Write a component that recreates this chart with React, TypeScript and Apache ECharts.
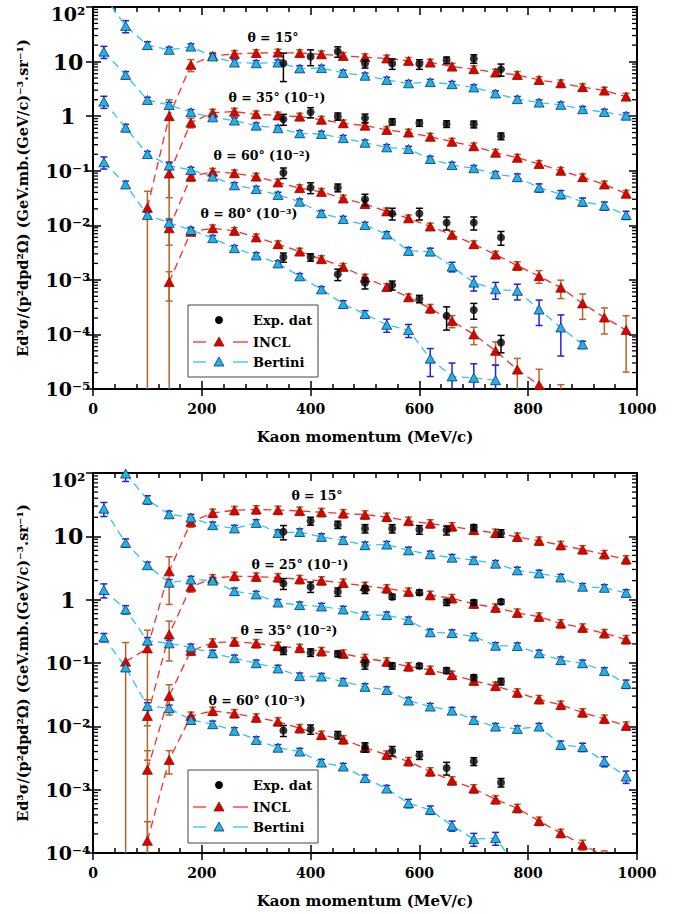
import React, { useEffect, useRef } from "react";
import * as echarts from "echarts";

const FONT = '"DejaVu Serif", serif';

// ---------- data ----------
const MODEL_X = [20, 60, 100, 140, 180, 220, 260, 300, 340, 380, 420, 460, 500, 540, 580, 620, 660, 700, 740, 780, 820, 860, 900, 940, 980];
const EXP_X = [350, 400, 450, 500, 550, 600, 650, 700, 750];
const X_TICK_LABELS = ["0", "200", "400", "600", "800", "1000"];
const TOP_Y_TICK_LABELS = ["10⁻⁵", "10⁻⁴", "10⁻³", "10⁻²", "10⁻¹", "1", "10", "10²"];
const BOT_Y_TICK_LABELS = ["10⁻⁴", "10⁻³", "10⁻²", "10⁻¹", "1", "10", "10²"];
const X_TITLE = "Kaon momentum (MeV/c)";
const Y_TITLE = "Ed³σ/(p²dpd²Ω) (GeV.mb.(GeV/c)⁻³.sr⁻¹)";
const TOP_ANGLE_LABELS = ["θ = 15°", "θ = 35° (10⁻¹)", "θ = 60° (10⁻²)", "θ = 80° (10⁻³)"];
const BOT_ANGLE_LABELS = ["θ = 15°", "θ = 25° (10⁻¹)", "θ = 35° (10⁻²)", "θ = 60° (10⁻³)"];
const LEGEND_NAMES = ["Exp. dat", "INCL", "Bertini"];

// top panel (values already scaled)
const TOP_INCL_15 = [null, null, 0.021, 1.0, 8.7, 12.7, 13.8, 14.3, 14.6, 14.3, 13.6, 12.7, 12.0, 11.4, 10.3, 9.6, 8.1, 7.25, 6.3, 5.7, 4.6, 4.0, 3.4, 2.94, 2.28];
const TOP_INCL_15_ERR = [0, 0, 100, 100, 25, 15, 15, 15, 15, 15, 15, 15, 15, 15, 15, 15, 15, 15, 15, 15, 15, 15, 15, 15, 15];
const TOP_BERT_15 = [160, 45, 20, 16.4, 18.8, 12.4, 9.6, 9.3, 9.6, 7.5, 7.6, 6.2, 5.5, 4.6, 4.0, 4.2, 3.85, 3.35, 2.6, 2.05, 1.77, 1.61, 1.34, 1.19, 1.02];
const TOP_BERT_15_ERR = [25, 25, 15, 12, 12, 12, 12, 12, 12, 12, 12, 12, 12, 12, 12, 12, 12, 12, 12, 12, 12, 12, 12, 12, 12];
const TOP_INCL_35 = [null, null, null, 0.089, 0.76, 1.16, 1.21, 1.08, 1.03, 0.98, 0.86, 0.74, 0.67, 0.56, 0.5, 0.42, 0.34, 0.28, 0.214, 0.173, 0.133, 0.1, 0.076, 0.056, 0.038];
const TOP_INCL_35_ERR = [0, 0, 0, 64, 20, 15, 15, 15, 15, 15, 15, 15, 15, 15, 15, 15, 15, 15, 15, 15, 15, 15, 15, 15, 15];
const TOP_BERT_35 = [15.2, 5.7, 1.98, 1.6, 1.18, 0.95, 0.83, 0.67, 0.6, 0.485, 0.47, 0.395, 0.325, 0.268, 0.25, 0.164, 0.127, 0.111, 0.086, 0.076, 0.049, 0.037, 0.027, 0.0228, 0.0154];
const TOP_BERT_35_ERR = [25, 15, 12, 12, 12, 12, 12, 12, 12, 12, 12, 12, 12, 12, 12, 12, 12, 12, 12, 15, 17, 17, 17, 17, 17];
const TOP_INCL_60 = [null, null, null, 0.0088, 0.078, 0.096, 0.09, 0.078, 0.061, 0.048, 0.041, 0.031, 0.0245, 0.018, 0.0134, 0.0095, 0.0067, 0.0045, 0.0029, 0.00182, 0.00117, 0.00072, 0.00037, 0.000204, 0.00012];
const TOP_INCL_60_ERR = [0, 0, 0, 51, 18, 15, 15, 15, 15, 15, 15, 15, 15, 15, 15, 15, 15, 15, 15, 18, 26, 37, 49, 50, 83];
const TOP_BERT_60 = [1.85, 0.615, 0.202, 0.124, 0.103, 0.078, 0.054, 0.046, 0.036, 0.027, 0.0166, 0.013, 0.0101, 0.0068, 0.0034, 0.0033, 0.00175, 0.00089, 0.00067, 0.00063, 0.000286, 0.000134, 0.0000653, null, null];
const TOP_BERT_60_ERR = [25, 15, 12, 12, 12, 12, 12, 12, 12, 12, 12, 12, 12, 12, 15, 15, 20, 30, 34, 32, 49, 70, 15, 0, 0];
const TOP_INCL_80 = [null, null, null, 0.00091, 0.0076, 0.0088, 0.0079, 0.006, 0.0045, 0.0033, 0.0024, 0.00173, 0.0011, 0.00074, 0.00048, 0.0003, 0.000177, 0.0001, 0.00005, 0.0000227, 0.0000118, 0.000006, null, null, null];
const TOP_INCL_80_ERR = [0, 0, 0, 55, 15, 15, 15, 15, 15, 15, 15, 15, 15, 15, 15, 18, 25, 35, 46, 60, 95, 100, 0, 0, 0];
const TOP_BERT_80 = [0.143, 0.056, 0.0154, 0.0111, 0.0082, 0.0058, 0.0038, 0.0028, 0.002, 0.00116, 0.00067, 0.00036, 0.000236, 0.00015, 0.00012, 0.000036, 0.000017, 0.000016, 0.0000145, null, null, null, null, null, null];
const TOP_BERT_80_ERR = [25, 15, 12, 12, 12, 12, 12, 12, 12, 12, 12, 15, 15, 27, 27, 53, 76, 81, 90, 0, 0, 0, 0, 0, 0];
const TOP_EXP_15 = [9.3, 12.4, 15.3, 9.2, 9.2, 9.0, 10.6, 11.3, 7.2];
const TOP_EXP_15_ERR = [5, 4, 3.3, 1.6, 2, 1.8, 1.5, 2, 1.8];
const TOP_EXP_35 = [0.88, 1.18, 0.99, 0.92, 0.79, 0.75, 0.72, 0.71, 0.43];
const TOP_EXP_35_ERR = [0.2, 0.25, 0.15, 0.17, 0.1, 0.1, 0.1, 0.1, 0.06];
const TOP_EXP_60 = [0.092, 0.049, 0.049, 0.03, 0.0165, 0.0165, 0.0112, 0.0112, 0.006];
const TOP_EXP_60_ERR = [0.02, 0.011, 0.008, 0.007, 0.004, 0.004, 0.003, 0.003, 0.0017];
const TOP_EXP_80 = [0.0026, 0.0026, 0.00127, 0.00088, 0.0008, 0.00045, 0.00022, 0.00028, 0.000071];
const TOP_EXP_80_ERR = [0.0005, 0.0004, 0.0003, 0.0002, 0.00015, 0.00007, 0.0001, 0.00009, 0.000025];

// bottom panel
const BOT_INCL_15 = [null, 0.105, 0.17, 2.8, 16.9, 23.4, 25.8, 26.5, 26, 25.2, 24, 23, 22, 20.2, 17.5, 15.9, 14.3, 12.6, 11.3, 9.8, 8.5, 7.25, 6.2, 5.2, 4.3];
const BOT_INCL_15_ERR = [0, 100, 94, 70, 18, 15, 15, 15, 15, 15, 15, 15, 15, 15, 15, 15, 15, 15, 15, 15, 15, 15, 15, 15, 15];
const BOT_BERT_15 = [null, 98, 38, 22.3, 19.8, 15, 13.3, 16.3, 11.3, 11.7, 9.8, 8.7, 7.25, 7.4, 6.0, 5.2, 4.6, 4.2, 3.7, 2.9, 2.6, 2.24, 1.6, 1.54, 1.28];
const BOT_BERT_15_ERR = [0, 25, 15, 12, 12, 12, 12, 12, 12, 12, 12, 12, 12, 12, 12, 12, 12, 12, 12, 12, 12, 12, 12, 12, 12];
const BOT_INCL_25 = [null, null, 0.0146, 0.283, 1.6, 2.16, 2.36, 2.3, 2.24, 2.1, 2.0, 1.84, 1.64, 1.5, 1.33, 1.18, 1.05, 0.86, 0.745, 0.62, 0.537, 0.42, 0.36, 0.294, 0.236];
const BOT_INCL_25_ERR = [0, 0, 80, 62, 18, 15, 15, 15, 15, 15, 15, 15, 15, 15, 15, 15, 15, 15, 15, 15, 15, 15, 15, 15, 15];
const BOT_BERT_25 = [27.4, 7.9, 3.5, 1.85, 2.08, 2.0, 1.36, 1.21, 0.9, 0.82, 0.78, 0.7, 0.57, 0.57, 0.475, 0.305, 0.297, 0.262, 0.187, 0.185, 0.142, 0.111, 0.099, 0.075, 0.0467];
const BOT_BERT_25_ERR = [25, 15, 12, 12, 12, 12, 12, 12, 12, 12, 12, 12, 12, 12, 12, 12, 12, 12, 12, 12, 12, 12, 12, 12, 15];
const BOT_INCL_35 = [null, null, 0.00206, 0.0302, 0.156, 0.209, 0.217, 0.204, 0.185, 0.172, 0.153, 0.14, 0.119, 0.105, 0.088, 0.0776, 0.0646, 0.0525, 0.0434, 0.034, 0.0267, 0.0218, 0.0165, 0.0131, 0.0102];
const BOT_INCL_35_ERR = [0, 0, 100, 50, 15, 15, 15, 15, 15, 15, 15, 15, 15, 15, 15, 15, 15, 15, 15, 15, 15, 15, 15, 15, 15];
const BOT_BERT_35 = [1.42, 0.7, 0.225, 0.204, 0.177, 0.142, 0.119, 0.099, 0.082, 0.062, 0.061, 0.0507, 0.042, 0.0375, 0.0255, 0.0205, 0.0177, 0.0126, 0.0099, 0.0091, 0.0099, 0.0051, 0.0047, 0.0028, 0.00161];
const BOT_BERT_35_ERR = [25, 15, 12, 12, 12, 12, 12, 12, 12, 12, 12, 12, 12, 12, 12, 12, 12, 12, 12, 12, 12, 15, 15, 18, 22];
const BOT_INCL_60 = [null, null, 0.000156, 0.00295, 0.0146, 0.0175, 0.016, 0.0137, 0.0119, 0.0093, 0.0073, 0.0062, 0.0046, 0.00355, 0.0028, 0.00193, 0.00139, 0.00104, 0.0007, 0.00051, 0.00032, 0.000206, 0.000135, 0.00009, null];
const BOT_INCL_60_ERR = [0, 0, 100, 40, 15, 15, 15, 15, 15, 15, 15, 15, 15, 15, 15, 15, 15, 15, 15, 15, 15, 15, 18, 20, 0];
const BOT_BERT_60 = [0.254, 0.085, 0.021, 0.0193, 0.0126, 0.0108, 0.0085, 0.0061, 0.0046, 0.004, 0.00268, 0.00232, 0.00152, 0.00104, 0.00061, 0.00048, 0.00027, 0.000166, 0.000172, 0.00006, null, null, null, null, null];
const BOT_BERT_60_ERR = [15, 12, 12, 12, 12, 12, 12, 12, 12, 12, 12, 12, 12, 12, 15, 15, 18, 23, 23, 20, 0, 0, 0, 0, 0];
const BOT_EXP_15 = [11.8, 17.5, 15.3, 13.3, 13.3, 12.8, 12.5, 13.8, 11.2];
const BOT_EXP_15_ERR = [3, 2.5, 2, 2, 2, 2, 2, 1.5, 1.5];
const BOT_EXP_25 = [1.8, 1.6, 1.33, 1.45, 1.11, 1.3, 0.91, 0.9, 0.925];
const BOT_EXP_25_ERR = [0.35, 0.3, 0.2, 0.2, 0.1, 0.12, 0.1, 0.08, 0.08];
const BOT_EXP_35 = [0.156, 0.147, 0.14, 0.095, 0.09, 0.09, 0.076, 0.059, 0.051];
const BOT_EXP_35_ERR = [0.02, 0.02, 0.015, 0.015, 0.01, 0.008, 0.008, 0.006, 0.006];
const BOT_EXP_60 = [0.0086, 0.009, 0.0073, 0.0047, 0.0041, 0.0035, 0.0022, 0.0028, 0.0013];
const BOT_EXP_60_ERR = [0.0017, 0.0015, 0.001, 0.0008, 0.0007, 0.0005, 0.0005, 0.0004, 0.0002];

// ---------- styles ----------
const INCL_LINE = "#ff2a2a";
const INCL_FILL = "#e00000";
const INCL_EDGE = "#7a1a00";
const INCL_ERR = "#b5652a";
const BERT_LINE = "#2ec6f2";
const BERT_FILL = "#1fb5e0";
const BERT_EDGE = "#10307a";
const BERT_ERR = "#2020f0";
const EXP_COLOR = "#000000";

const PANELS = [
  { top: 7, height: 382, minExp: -5, maxExp: 2, tickLabels: TOP_Y_TICK_LABELS },
  { top: 473, height: 380, minExp: -4, maxExp: 2, tickLabels: BOT_Y_TICK_LABELS },
];

function lineSeries(p, vals, line, fill, edge) {
  return {
    type: "line",
    xAxisIndex: p * 3,
    yAxisIndex: p * 3,
    data: MODEL_X.map((x, i) => [x, vals[i] == null ? "-" : vals[i]]),
    symbol: "triangle",
    symbolSize: [10, 9],
    itemStyle: { color: fill, borderColor: edge, borderWidth: 0.8 },
    lineStyle: { color: line, width: 1.3, type: [8, 5] },
    clip: true,
    z: 4,
    silent: true,
    connectNulls: false,
  };
}

function errSeries(p, xs, vals, errs, pct, color, capW, z) {
  const data = [];
  xs.forEach((x, i) => {
    const v = vals[i];
    if (v == null) return;
    const e = pct ? (v * errs[i]) / 100 : errs[i];
    if (!e) return;
    data.push([x, Math.max(v - e, 1e-12), v + e]);
  });
  return {
    type: "custom",
    xAxisIndex: p * 3,
    yAxisIndex: p * 3,
    clip: true,
    silent: true,
    z,
    data,
    encode: { x: 0, y: [1, 2] },
    renderItem: (params, api) => {
      const x = api.value(0);
      const a = api.coord([x, api.value(2)]);
      const b = api.coord([x, api.value(1)]);
      const w = capW / 2;
      const st = { stroke: color, lineWidth: 1.5 };
      return {
        type: "group",
        children: [
          { type: "line", shape: { x1: a[0], y1: a[1], x2: b[0], y2: b[1] }, style: st },
          { type: "line", shape: { x1: a[0] - w, y1: a[1], x2: a[0] + w, y2: a[1] }, style: st },
          { type: "line", shape: { x1: b[0] - w, y1: b[1], x2: b[0] + w, y2: b[1] }, style: st },
        ],
      };
    },
  };
}

function expSeries(p, vals) {
  return {
    type: "scatter",
    xAxisIndex: p * 3,
    yAxisIndex: p * 3,
    data: EXP_X.map((x, i) => [x, vals[i]]),
    symbol: "circle",
    symbolSize: 8,
    itemStyle: { color: EXP_COLOR },
    z: 6,
    silent: true,
    clip: true,
  };
}

function minorTickSeries(p, minExp, maxExp) {
  const data = [];
  for (let e = minExp; e < maxExp; e++) for (let m = 2; m <= 9; m++) data.push([0, m * Math.pow(10, e)]);
  return {
    type: "custom",
    xAxisIndex: p * 3,
    yAxisIndex: p * 3,
    silent: true,
    z: 10,
    data,
    encode: { x: 0, y: 1 },
    renderItem: (params, api) => {
      const v = api.value(1);
      const l = api.coord([0, v]);
      const r = api.coord([1000, v]);
      const st = { stroke: "#000", lineWidth: 1.3 };
      return {
        type: "group",
        children: [
          { type: "line", shape: { x1: l[0], y1: l[1], x2: l[0] + 5, y2: l[1] }, style: st },
          { type: "line", shape: { x1: r[0] - 5, y1: r[1], x2: r[0], y2: r[1] }, style: st },
        ],
      };
    },
  };
}

const axisLineStyle = { color: "#000", width: 2 };
const tickStyle = { color: "#000", width: 1.5 };

function xAxes(p) {
  const base = { type: "value", gridIndex: p, min: 0, max: 1000, interval: 200, splitLine: { show: false } };
  return [
    {
      ...base,
      position: "bottom",
      name: X_TITLE,
      nameLocation: "middle",
      nameGap: 40,
      nameTextStyle: { fontFamily: FONT, fontWeight: "bold", fontSize: 15, color: "#000" },
      axisLine: { show: true, onZero: false, lineStyle: axisLineStyle },
      axisTick: { show: true, inside: true, length: 8, lineStyle: tickStyle },
      minorTick: { show: true, splitNumber: 5, length: 5, lineStyle: tickStyle },
      axisLabel: {
        show: true,
        margin: 13,
        fontFamily: FONT,
        fontWeight: "bold",
        fontSize: 14,
        color: "#000",
        formatter: (v) => X_TICK_LABELS[Math.round(v / 200)],
      },
    },
    {
      ...base,
      position: "top",
      axisLine: { show: true, onZero: false, lineStyle: axisLineStyle },
      axisTick: { show: true, inside: true, length: 8, lineStyle: tickStyle },
      minorTick: { show: true, splitNumber: 5, length: 5, lineStyle: tickStyle },
      axisLabel: { show: false },
    },
    {
      ...base,
      position: "bottom",
      axisLine: { show: false },
      axisTick: { show: true, inside: false, length: 7, lineStyle: tickStyle },
      minorTick: { show: false },
      axisLabel: { show: false },
    },
  ];
}

function yAxes(p) {
  const P = PANELS[p];
  const base = {
    type: "log",
    logBase: 10,
    gridIndex: p,
    min: Math.pow(10, P.minExp),
    max: Math.pow(10, P.maxExp),
    splitNumber: P.maxExp - P.minExp,
    splitLine: { show: false },
  };
  const labelText = { fontFamily: FONT, fontWeight: "bold", color: "#000" };
  return [
    {
      ...base,
      position: "left",
      name: Y_TITLE,
      nameLocation: "middle",
      nameGap: 63,
      nameTextStyle: { fontFamily: FONT, fontWeight: "bold", fontSize: 14.5, color: "#000" },
      axisLine: { show: true, onZero: false, lineStyle: axisLineStyle },
      axisTick: { show: true, inside: true, length: 8, lineStyle: tickStyle },
      axisLabel: {
        show: true,
        margin: 25,
        align: "center",
        ...labelText,
        fontSize: 19,
        formatter: (v) => {
          const e = Math.round(Math.log10(v));
          const t = P.tickLabels[e - P.minExp];
          if (e === P.maxExp) return `{top|${t}}`;
          if (e === 0 || e === 1) return `{big|${t}}`;
          return t;
        },
        rich: {
          top: { ...labelText, fontSize: 19, padding: [14, 0, 0, 0] },
          big: { ...labelText, fontSize: 22 },
        },
      },
    },
    {
      ...base,
      position: "right",
      axisLine: { show: true, onZero: false, lineStyle: axisLineStyle },
      axisTick: { show: true, inside: true, length: 8, lineStyle: tickStyle },
      axisLabel: { show: false },
    },
    {
      ...base,
      position: "left",
      axisLine: { show: false },
      axisTick: { show: true, inside: false, length: 7, lineStyle: tickStyle },
      axisLabel: { show: false },
    },
  ];
}

function panelSeries(p, sets) {
  const out = [];
  sets.forEach((s) => {
    out.push(errSeries(p, MODEL_X, s.incl, s.inclErr, true, INCL_ERR, 7, 2));
    out.push(errSeries(p, MODEL_X, s.bert, s.bertErr, true, BERT_ERR, 7, 2));
    out.push(lineSeries(p, s.incl, INCL_LINE, INCL_FILL, INCL_EDGE));
    out.push(lineSeries(p, s.bert, BERT_LINE, BERT_FILL, BERT_EDGE));
    out.push(errSeries(p, EXP_X, s.exp, s.expErr, false, EXP_COLOR, 7, 5));
    out.push(expSeries(p, s.exp));
  });
  out.push(minorTickSeries(p, PANELS[p].minExp, PANELS[p].maxExp));
  return out;
}

function legendGraphics(left, top, h) {
  const font = `bold 13px ${FONT}`;
  const rows = [top + 15, top + 37, top + 57];
  const mx = left + 31;
  const tri = (cy, fill, edge) => ({
    type: "polygon",
    shape: { points: [[mx, cy - 5], [mx - 5, cy + 4], [mx + 5, cy + 4]] },
    style: { fill, stroke: edge, lineWidth: 0.8 },
  });
  const seg = (x1, x2, y, color) => ({ type: "line", shape: { x1, y1: y, x2, y2: y }, style: { stroke: color, lineWidth: 1.3 } });
  const txt = (t, y) => ({
    type: "text",
    x: left + 65,
    y,
    style: { text: t, font, fill: "#000", align: "left", verticalAlign: "middle" },
  });
  return [
    { type: "rect", shape: { x: left, y: top, width: 130, height: h }, style: { fill: "#fff", stroke: "#444", lineWidth: 1 } },
    { type: "circle", shape: { cx: mx, cy: rows[0], r: 4 }, style: { fill: EXP_COLOR } },
    txt(LEGEND_NAMES[0], rows[0]),
    seg(left + 5, left + 18, rows[1], INCL_LINE),
    seg(left + 45, left + 60, rows[1], INCL_LINE),
    tri(rows[1], INCL_FILL, INCL_EDGE),
    txt(LEGEND_NAMES[1], rows[1]),
    seg(left + 5, left + 18, rows[2], BERT_LINE),
    seg(left + 45, left + 60, rows[2], BERT_LINE),
    tri(rows[2], BERT_FILL, BERT_EDGE),
    txt(LEGEND_NAMES[2], rows[2]),
  ];
}

function angleLabel(t, x, y) {
  return { type: "text", x, y, style: { text: t, font: `bold 12.5px ${FONT}`, fill: "#000", align: "center", verticalAlign: "middle" } };
}

function buildOption() {
  const top = [
    { incl: TOP_INCL_15, inclErr: TOP_INCL_15_ERR, bert: TOP_BERT_15, bertErr: TOP_BERT_15_ERR, exp: TOP_EXP_15, expErr: TOP_EXP_15_ERR },
    { incl: TOP_INCL_35, inclErr: TOP_INCL_35_ERR, bert: TOP_BERT_35, bertErr: TOP_BERT_35_ERR, exp: TOP_EXP_35, expErr: TOP_EXP_35_ERR },
    { incl: TOP_INCL_60, inclErr: TOP_INCL_60_ERR, bert: TOP_BERT_60, bertErr: TOP_BERT_60_ERR, exp: TOP_EXP_60, expErr: TOP_EXP_60_ERR },
    { incl: TOP_INCL_80, inclErr: TOP_INCL_80_ERR, bert: TOP_BERT_80, bertErr: TOP_BERT_80_ERR, exp: TOP_EXP_80, expErr: TOP_EXP_80_ERR },
  ];
  const bot = [
    { incl: BOT_INCL_15, inclErr: BOT_INCL_15_ERR, bert: BOT_BERT_15, bertErr: BOT_BERT_15_ERR, exp: BOT_EXP_15, expErr: BOT_EXP_15_ERR },
    { incl: BOT_INCL_25, inclErr: BOT_INCL_25_ERR, bert: BOT_BERT_25, bertErr: BOT_BERT_25_ERR, exp: BOT_EXP_25, expErr: BOT_EXP_25_ERR },
    { incl: BOT_INCL_35, inclErr: BOT_INCL_35_ERR, bert: BOT_BERT_35, bertErr: BOT_BERT_35_ERR, exp: BOT_EXP_35, expErr: BOT_EXP_35_ERR },
    { incl: BOT_INCL_60, inclErr: BOT_INCL_60_ERR, bert: BOT_BERT_60, bertErr: BOT_BERT_60_ERR, exp: BOT_EXP_60, expErr: BOT_EXP_60_ERR },
  ];
  const topLabelPos = [[273, 37], [277, 97], [262, 155], [249, 213]];
  const botLabelPos = [[317, 495], [300, 564], [289, 630], [257, 700]];
  return {
    animation: false,
    backgroundColor: "#fff",
    grid: PANELS.map((P) => ({ left: 93, width: 544, top: P.top, height: P.height, containLabel: false, outerBoundsMode: "none" })),
    xAxis: [...xAxes(0), ...xAxes(1)],
    yAxis: [...yAxes(0), ...yAxes(1)],
    series: [...panelSeries(0, top), ...panelSeries(1, bot)],
    graphic: [
      ...TOP_ANGLE_LABELS.map((t, i) => angleLabel(t, topLabelPos[i][0], topLabelPos[i][1])),
      ...BOT_ANGLE_LABELS.map((t, i) => angleLabel(t, botLabelPos[i][0], botLabelPos[i][1])),
      ...legendGraphics(188, 305, 72),
      ...legendGraphics(188, 770, 73),
    ],
  };
}

export default function App() {
  const ref = useRef(null);
  useEffect(() => {
    const chart = echarts.init(ref.current, null, { renderer: "svg" });
    chart.setOption(buildOption());
    return () => chart.dispose();
  }, []);
  return (
    <div
      ref={ref}
      style={{ position: "fixed", left: 0, top: 0, width: 681, height: 914, background: "#fff" }}
    />
  );
}
